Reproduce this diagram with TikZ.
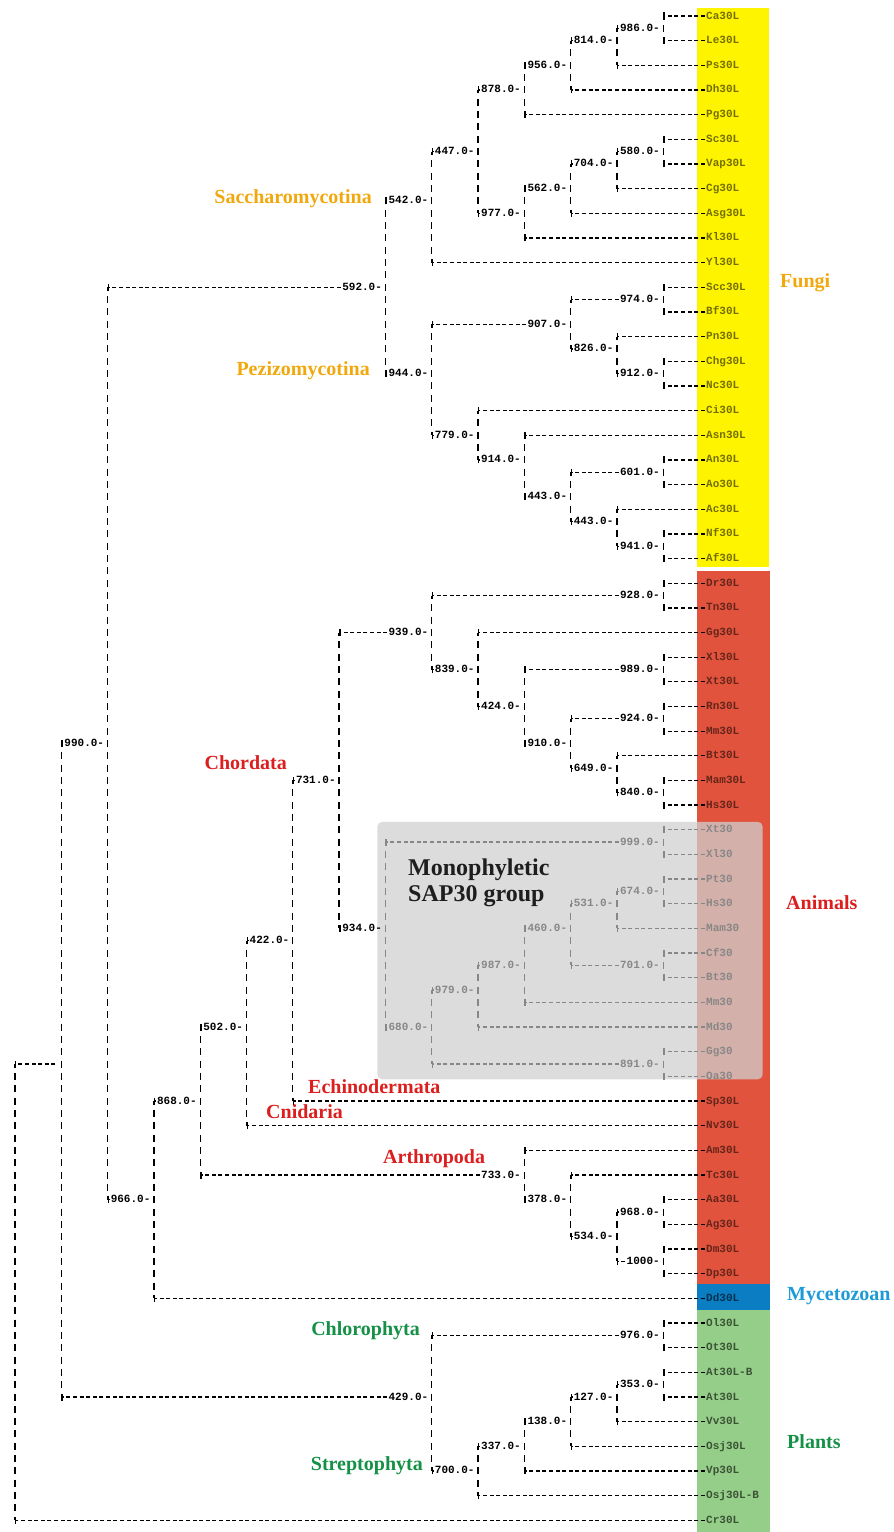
\documentclass[tikz,border=0pt]{standalone}
\usepackage{fontspec}
\setmainfont{Liberation Serif}
\setmonofont{Liberation Mono}
\usepackage{tikz}
\usetikzlibrary{arrows.meta, positioning}
\definecolor{fungicolor}{RGB}{255,244,0}
\definecolor{animalcolor}{RGB}{225,83,60}
\definecolor{mycetocolor}{RGB}{10,125,195}
\definecolor{plantcolor}{RGB}{148,206,136}
\definecolor{fungitext}{RGB}{240,168,12}
\definecolor{animaltext}{RGB}{220,30,30}
\definecolor{mycetotext}{RGB}{30,155,215}
\definecolor{planttext}{RGB}{20,145,70}
\definecolor{boxcolor}{RGB}{208,208,208}
\definecolor{sapcolor}{RGB}{135,135,135}
\definecolor{monocolor}{RGB}{30,30,30}

\begin{document}
\begin{tikzpicture}[
    x=1pt, y=-12.33pt,
    hbranch/.style={line width=1.3pt, dash pattern=on 4pt off 2.6pt, shorten <=1.2pt, -{Bar[width=7pt, line width=1.4pt]}},
    vbranch/.style={line width=1.3pt, dash pattern=on 7pt off 5.33pt, dash phase=3.5pt},
    support/.style={inner sep=0pt, text height=7pt, text depth=1pt, font=\ttfamily\bfseries\fontsize{11}{11}\selectfont},
    leaf/.style={support, anchor=west, text=#1},
    clade/.style={inner sep=0pt, font=\bfseries\fontsize{20}{20}\selectfont, text=#1}
]
    \useasboundingbox (0,-1.2976) rectangle (893,122.95);

    % Kingdom bands
    \fill[fungicolor] (697,-0.65) rectangle (769,44.69);
    \fill[animalcolor] (697,45.05) rectangle (770,102.84);
    \fill[mycetocolor] (697,102.84) rectangle (770,104.95);
    \fill[plantcolor] (697,104.95) rectangle (770,122.95);
    % SAP30 box
    \fill[boxcolor, opacity=0.75, rounded corners=5pt] (377.3,65.35) rectangle (762.7,86.24);

    % Leaves
    \foreach \nm/\txt/\ln in {ca/Ca30L/0, le/Le30L/2, ps/Ps30L/4, dh/Dh30L/6, pg/Pg30L/8, sc/Sc30L/10, vap/Vap30L/12, cg/Cg30L/14, asg/Asg30L/16, kl/Kl30L/18, yl/Yl30L/20, scc/Scc30L/22, bf/Bf30L/24, pn/Pn30L/26, chg/Chg30L/28, nc/Nc30L/30, ci/Ci30L/32, asn/Asn30L/34, an/An30L/36, ao/Ao30L/38, ac/Ac30L/40, nf/Nf30L/42, af/Af30L/44}
        \node[leaf=fungicolor!45!black] (\nm) at (706,\ln) {\txt};
    \foreach \nm/\txt/\ln in {dr/Dr30L/46, tn/Tn30L/48, gg/Gg30L/50, xl/Xl30L/52, xt/Xt30L/54, rn/Rn30L/56, mm/Mm30L/58, bt/Bt30L/60, mam/Mam30L/62, hs/Hs30L/64, sp/Sp30L/88, nv/Nv30L/90, am/Am30L/92, tc/Tc30L/94, aa/Aa30L/96, ag/Ag30L/98, dm/Dm30L/100, dp/Dp30L/102}
        \node[leaf=animalcolor!45!black] (\nm) at (706,\ln) {\txt};
    \foreach \nm/\txt/\ln in {xtg/Xt30/66, xlg/Xl30/68, ptg/Pt30/70, hsg/Hs30/72, mamg/Mam30/74, cfg/Cf30/76, btg/Bt30/78, mmg/Mm30/80, mdg/Md30/82, ggg/Gg30/84, oag/Oa30/86}
        \node[leaf=sapcolor] (\nm) at (706,\ln) {\txt};
    \node[leaf=mycetocolor!40!black] (dd) at (706,104) {Dd30L};
    \foreach \nm/\txt/\ln in {ol/Ol30L/106, ot/Ot30L/108, athb/At30L-B/110, ath/At30L/112, vv/Vv30L/114, osj/Osj30L/116, vp/Vp30L/118, osjb/Osj30L-B/120, cr/Cr30L/122}
        \node[leaf=plantcolor!40!black] (\nm) at (706,\ln) {\txt};

    % Internal nodes with support values
    \foreach \id/\x/\ln/\val in {986/663.2/1/986.0, 814/616.9/2/814.0, 956/570.6/4/956.0, 878/524.3/6/878.0, 580/663.2/11/580.0, 704/616.9/12/704.0, 562/570.6/14/562.0, 977/524.3/16/977.0, 447/478.0/11/447.0, 542/431.7/15/542.0, 592/385.4/22/592.0, 974/663.2/23/974.0, 907/570.6/25/907.0, 826/616.9/27/826.0, 912/663.2/29/912.0, 944/431.7/29/944.0, 779/478.0/34/779.0, 914/524.3/36/914.0, 601/663.2/37/601.0, 443a/570.6/39/443.0, 443b/616.9/41/443.0, 941/663.2/43/941.0, 928/663.2/47/928.0, 939/431.7/50/939.0, 839/478.0/53/839.0, 989/663.2/53/989.0, 424/524.3/56/424.0, 924/663.2/57/924.0, 910/570.6/59/910.0, 990/107.6/59/990.0, 649/616.9/61/649.0, 731/339.1/62/731.0, 840/663.2/63/840.0, 934/385.4/74/934.0, 422/292.8/75/422.0, 502/246.5/82/502.0, 868/200.2/88/868.0, 733/524.3/94/733.0, 378/570.6/96/378.0, 966/153.9/96/966.0, 968/663.2/97/968.0, 534/616.9/99/534.0, 1000/663.2/101/1000, 976/663.2/107/976.0, 353/663.2/111/353.0, 127/616.9/112/127.0, 429/431.7/112/429.0, 138/570.6/114/138.0, 337/524.3/116/337.0, 700/478.0/118/700.0}{
        \coordinate (p\id) at (\x,\ln);
        \node[support, left=3.3pt of p\id] (n\id) {\val-};
    }
    \foreach \id/\x/\ln/\val in {999/663.2/67/999.0, 674/663.2/71/674.0, 531/616.9/72/531.0, 460/570.6/74/460.0, 701/663.2/77/701.0, 987/524.3/77/987.0, 979/478.0/79/979.0, 680/431.7/82/680.0, 891/663.2/85/891.0}{
        \coordinate (p\id) at (\x,\ln);
        \node[support, text=sapcolor, left=3.3pt of p\id] (n\id) {\val-};
    }
    \coordinate (pA) at (61.3,85);
    \node[support, left=3.3pt of pA] (nA) {};
    \coordinate (pR) at (15,103);

    % Vertical lines
    \foreach \id/\a/\b in {986/ca/le, 814/n986/ps, 956/n814/dh, 878/n956/pg, 580/sc/vap, 704/n580/cg, 562/n704/asg, 977/n562/kl, 447/n878/n977, 542/n447/yl, 974/scc/bf, 912/chg/nc, 826/pn/n912, 907/n974/n826, 601/an/ao, 941/nf/af, 443b/ac/n941, 443a/n601/n443b, 914/asn/n443a, 779/ci/n914, 944/n907/n779, 592/n542/n944, 928/dr/tn, 989/xl/xt, 924/rn/mm, 840/mam/hs, 649/bt/n840, 910/n924/n649, 424/n989/n910, 839/gg/n424, 939/n928/n839, 731/n939/n934, 422/n731/sp, 502/n422/nv, 968/aa/ag, 1000/dm/dp, 534/n968/n1000, 378/tc/n534, 733/am/n378, 868/n502/n733, 966/n868/dd, 990/n592/n966, 976/ol/ot, 353/athb/ath, 127/n353/vv, 138/n127/osj, 337/n138/vp, 700/n337/osjb, 429/n976/n700, A/n990/n429, R/nA/cr}
        \draw[vbranch] (p\id |- \a) -- (p\id |- \b);
    \foreach \id/\a/\b in {999/xtg/xlg, 674/ptg/hsg, 531/n674/mamg, 701/cfg/btg, 460/n531/n701, 987/n460/mmg, 979/n987/mdg, 891/ggg/oag, 680/n979/n891, 934/n999/n680}
        \draw[vbranch, draw=sapcolor] (p\id |- \a) -- (p\id |- \b);

    % Horizontal branches
    \foreach \c/\p in {ca/986, le/986, n986/814, ps/814, n814/956, dh/956, n956/878, pg/878, sc/580, vap/580, n580/704, cg/704, n704/562, asg/562, n562/977, kl/977, n878/447, n977/447, n447/542, yl/542, n542/592, scc/974, bf/974, chg/912, nc/912, pn/826, n912/826, n974/907, n826/907, an/601, ao/601, nf/941, af/941, ac/443b, n941/443b, n601/443a, n443b/443a, asn/914, n443a/914, ci/779, n914/779, n907/944, n779/944, n944/592, n592/990, dr/928, tn/928, xl/989, xt/989, rn/924, mm/924, mam/840, hs/840, bt/649, n840/649, n924/910, n649/910, n989/424, n910/424, gg/839, n424/839, n928/939, n839/939, n939/731, n934/731, n731/422, sp/422, n422/502, nv/502, n502/868, aa/968, ag/968, dm/1000, dp/1000, n968/534, n1000/534, tc/378, n534/378, am/733, n378/733, n733/868, n868/966, dd/966, n966/990, n990/A, ol/976, ot/976, athb/353, ath/353, n353/127, vv/127, n127/138, osj/138, n138/337, vp/337, n337/700, osjb/700, n976/429, n700/429, n429/A, nA/R, cr/R}
        \draw[hbranch] (\c.west) -- (p\p |- \c);
    \foreach \c/\p in {xtg/999, xlg/999, ptg/674, hsg/674, n674/531, mamg/531, cfg/701, btg/701, n531/460, n701/460, n460/987, mmg/987, n987/979, mdg/979, ggg/891, oag/891, n979/680, n891/680, n999/934, n680/934}
        \draw[hbranch, draw=sapcolor] (\c.west) -- (p\p |- \c);

    % Clade labels
    \node[clade=fungitext, anchor=mid east] (sacch) at (372,15) {Saccharomycotina};
    \node[clade=fungitext, anchor=mid east] (pezizo) at (370,29) {Pezizomycotina};
    \node[clade=animaltext, anchor=mid east] (chord) at (287,60.9) {Chordata};
    \node[clade=animaltext, anchor=mid west] (echino) at (308,87.2) {Echinodermata};
    \node[clade=animaltext, anchor=mid west] (cnid) at (266,89.2) {Cnidaria};
    \node[clade=animaltext, anchor=mid west] (arthro) at (383,92.9) {Arthropoda};
    \node[clade=planttext, anchor=mid east] (chloro) at (420,106.8) {Chlorophyta};
    \node[clade=planttext, anchor=mid east] (strepto) at (423,117.8) {Streptophyta};
    \node[anchor=north west, align=left, inner sep=0pt, text=monocolor, font=\bfseries\fontsize{24}{26.7}\selectfont] (mono) at (408,68.3) {Monophyletic\\SAP30 group};

    % Kingdom labels
    \node[clade=fungitext, anchor=mid west] (fungi) at (780,21.8) {Fungi};
    \node[clade=animaltext, anchor=mid west] (animals) at (786,72.3) {Animals};
    \node[clade=mycetotext, anchor=mid west] (myceto) at (787,104) {Mycetozoan};
    \node[clade=planttext, anchor=mid west] (plants) at (787,116) {Plants};
\end{tikzpicture}
\end{document}
